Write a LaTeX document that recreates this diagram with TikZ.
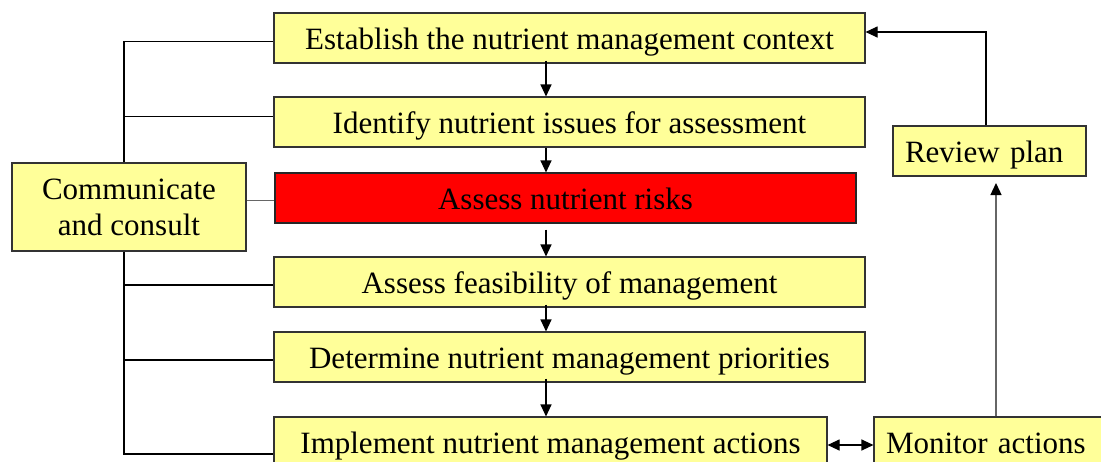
\documentclass[tikz,border=0pt]{standalone}
\usepackage{fontspec}
\setmainfont{Liberation Serif}
\usetikzlibrary{arrows.meta}
\definecolor{boxyellow}{HTML}{FFFF99}
\definecolor{boxline}{HTML}{333333}
\tikzset{
  box/.style={draw=boxline, line width=1.1pt, fill=boxyellow, inner sep=0pt,
    minimum height=50pt, align=center, font=\fontsize{31}{36}\selectfont},
  onel/.style={text height=23pt, text depth=1pt},
  conn/.style={draw=black, line width=1.1pt},
  gconn/.style={draw=black!60, line width=1.3pt},
  arr/.style={conn, -{Triangle[length=12pt,width=11pt]}},
  darr/.style={conn, {Triangle[length=12pt,width=11pt]}-{Triangle[length=12pt,width=11pt]}}
}
\begin{document}
\begin{tikzpicture}[x=1pt,y=-1pt]
\path[use as bounding box] (0,0) rectangle (1101,461);
\clip (0,0) rectangle (1101,461);
\node[box, onel, minimum width=591pt] (est) at (569.5,38) {Establish the nutrient management context};
\node[box, onel, minimum width=591pt] (idf) at (569.5,122) {Identify nutrient issues for assessment};
\node[box, onel, minimum width=581pt, fill=red, draw=black!85] (risk) at (565.5,198) {Assess nutrient risks};
\node[box, onel, minimum width=591pt] (feas) at (569.5,282) {Assess feasibility of management};
\node[box, onel, minimum width=591pt] (det) at (569.5,357) {Determine nutrient management priorities};
\node[box, onel, minimum width=553pt] (impl) at (550.5,442) {Implement nutrient management actions};
\node[box, minimum width=234pt, minimum height=88pt] (comm) at (129,207) {Communicate\\and consult};
\node[box, onel, minimum width=193pt, text width=193pt, align=left] (rev) at (989.5,151) {\hspace*{12pt}Review plan};
\node[box, onel, minimum width=236pt, text width=236pt, align=left] (mon) at (992,442) {\hspace*{12pt}Monitor actions};

\coordinate (lt) at (124,41.5);
\coordinate (l2) at (124,116.5);
\coordinate (l3) at (124,285);
\coordinate (l4) at (124,360);
\coordinate (l5) at (124,454);
\coordinate (xa) at (546,0);
\coordinate (xr) at (986,0);
\coordinate (xm) at (996,0);
\coordinate (rtip) at (996,183);

% left bracket
\draw[conn] (lt -| est.west) -- (lt) -- (lt |- comm.north);
\draw[conn] (l2) -- (l2 -| idf.west);
\draw[gconn] ([yshift=6.5pt]comm.east) -- ([yshift=6.5pt]comm.east -| risk.west);
\draw[conn] (lt |- comm.south) -- (l5) -- (l5 -| impl.west);
\draw[conn] (l3) -- (l3 -| feas.west);
\draw[conn] (l4) -- (l4 -| det.west);

% main chain
\draw[arr] ([yshift=3pt]xa |- est.south) -- (xa |- idf.north);
\draw[arr] (xa |- idf.south) -- (xa |- risk.north);
\draw[arr] ([yshift=-6pt]xa |- risk.south) -- (xa |- feas.north);
\draw[arr] ([yshift=3pt]xa |- feas.south) -- (xa |- det.north);
\draw[arr] ([yshift=4pt]xa |- det.south) -- (xa |- impl.north);

% review loop
\draw[arr] (xr |- rev.north) |- ([yshift=6pt]est.east);
\draw[gconn, -{Triangle[length=12pt,width=11pt,color=black]}] (xm |- mon.north) -- (rtip);
\draw[darr] ([yshift=-3pt]impl.east) -- ([yshift=-3pt]impl.east -| mon.west);
\end{tikzpicture}
\end{document}
